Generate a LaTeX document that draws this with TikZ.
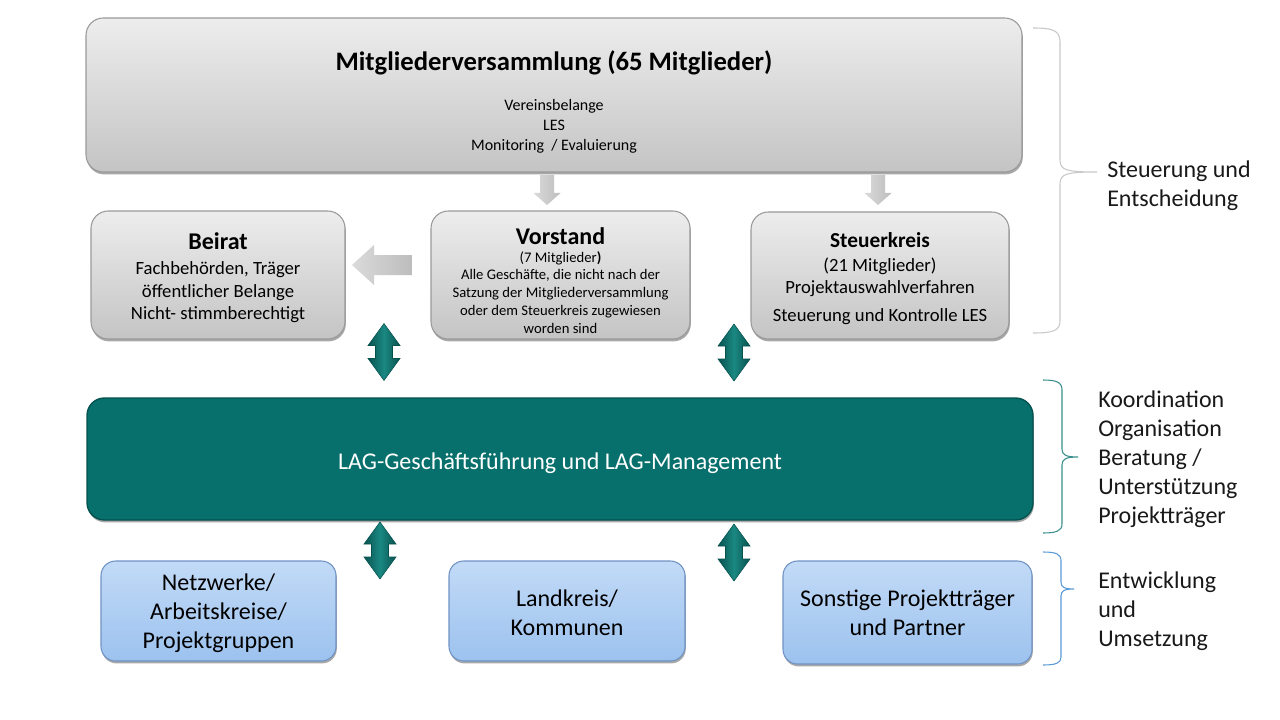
\documentclass[tikz,border=0pt]{standalone}
\usepackage{fontspec}
\setmainfont{Carlito}
\usetikzlibrary{shadows}
\definecolor{gtop}{HTML}{EDEDED}
\definecolor{gbot}{HTML}{C4C4C4}
\definecolor{gborder}{HTML}{9A9A9A}
\definecolor{tealfill}{HTML}{08706C}
\definecolor{tealborder}{HTML}{04514E}
\definecolor{tealdark}{HTML}{09524F}
\definecolor{teallight}{HTML}{1A8882}
\definecolor{btop}{HTML}{C2DAF7}
\definecolor{bbot}{HTML}{9CC2EE}
\definecolor{bborder}{HTML}{6F93C4}
\definecolor{bracegray}{HTML}{C9C9C9}
\definecolor{braceteal}{HTML}{3A8F8C}
\definecolor{braceblue}{HTML}{5B9BD5}
\definecolor{arrgraya}{HTML}{DADADA}
\definecolor{arrgrayb}{HTML}{BDBDBD}
\begin{document}
\begin{tikzpicture}[x=0.75pt,y=-0.75pt,
  boxshadow/.style={drop shadow={shadow xshift=0.6pt,shadow yshift=-1.8pt,opacity=0.45,fill=black!75}},
  graybox/.style={rounded corners=13pt,top color=gtop,bottom color=gbot,draw=gborder,line width=0.8pt,boxshadow,align=center,inner sep=0pt},
  tealbox/.style={rounded corners=13pt,fill=tealfill,draw=tealborder,line width=1pt,boxshadow,align=center,inner sep=0pt,text=white},
  bluebox/.style={rounded corners=11pt,top color=btop,bottom color=bbot,draw=bborder,line width=0.8pt,boxshadow,align=center,inner sep=0pt},
  sidelabel/.style={anchor=west,align=left,inner sep=0pt,text=black!90,font=\fontsize{18}{21.75}\selectfont},
  brace/.style={line width=0.8pt},
  tealarrow/.style={left color=tealdark,right color=tealdark,middle color=teallight,draw=tealborder,line width=0.4pt},
  grayarrow/.style={left color=arrgraya,right color=arrgrayb,draw=none},
  vdarrow/.pic={\path[tealarrow] (0,-28.5) -- (16,-6.5) -- (8.5,-6.5) -- (8.5,6.5) -- (16,6.5) -- (0,28.5) -- (-16,6.5) -- (-8.5,6.5) -- (-8.5,-6.5) -- (-16,-6.5) -- cycle;},
  downarrow/.pic={\path[grayarrow] (-7,-15) -- (7,-15) -- (7,3) -- (13.5,3) -- (0,15) -- (-13.5,3) -- (-7,3) -- cycle;},
  leftarrow/.pic={\path[grayarrow] (-30,0) -- (-8,-20) -- (-8,-10) -- (30,-10) -- (30,10) -- (-8,10) -- (-8,20) -- cycle;}
]
\useasboundingbox[fill=white] (0,0) rectangle (1280,720);

% main boxes
\node[graybox,minimum width=702pt,minimum height=115.5pt,font=\fontsize{12}{15}\selectfont] (mv) at (554,95)
  {{\fontsize{20}{24}\selectfont\bfseries\rule{0pt}{25pt}Mitgliederversammlung (65 Mitglieder)}\\[15pt]
   Vereinsbelange\\LES\\Monitoring~ / Evaluierung};

\node[graybox,minimum width=190.5pt,minimum height=96pt,font=\fontsize{14}{16.875}\selectfont] (beirat) at (218,275)
  {{\fontsize{18}{20}\selectfont\bfseries\rule{0pt}{17pt}Beirat}\\[1.9pt]
   Fachbehörden, Träger\\öffentlicher Belange\\Nicht- stimmberechtigt};

\node[graybox,minimum width=194.25pt,minimum height=96pt,font=\fontsize{11}{13.5}\selectfont] (vorstand) at (560.5,275)
  {{\fontsize{18}{20}\selectfont\bfseries\rule{0pt}{21pt}Vorstand}\\[0.5pt]
   (7 Mitglieder\textbf{)}\\[-0.8pt]
   Alle Geschäfte, die nicht nach der\\
   Satzung der Mitgliederversammlung\\
   oder dem Steuerkreis zugewiesen\\
   worden sind};

\node[graybox,minimum width=193.5pt,minimum height=95.25pt,font=\fontsize{14}{16.5}\selectfont] (steuer) at (880,275.5)
  {{\fontsize{16}{18}\selectfont\bfseries\rule{0pt}{16pt}Steuerkreis}\\[1.5pt]
   (21 Mitglieder)\\Projektauswahlverfahren\\[4.5pt]Steuerung und Kontrolle LES};

\node[tealbox,minimum width=709.5pt,minimum height=91.5pt,font=\fontsize{18}{21.75}\selectfont] (lag) at (560,459)
  {\rule{0pt}{19.5pt}LAG-Geschäftsführung und LAG-Management};

\node[bluebox,minimum width=176.25pt,minimum height=75pt,font=\fontsize{18}{21.75}\selectfont] (netz) at (218.5,611)
  {\rule{0pt}{16pt}Netzwerke/\\Arbeitskreise/\\Projektgruppen};
\node[bluebox,minimum width=177pt,minimum height=75pt,font=\fontsize{18}{21.75}\selectfont] (land) at (567,611)
  {\rule{0pt}{14.5pt}Landkreis/\\Kommunen};
\node[bluebox,minimum width=186.75pt,minimum height=77.25pt,font=\fontsize{18}{21.75}\selectfont] (sonst) at (907.5,612.5)
  {Sonstige Projektträger\\und Partner};

% gray block arrows
\pic (d1) at (547,190) {downarrow};
\pic (d2) at (878,190) {downarrow};
\pic (l1) at (382,265) {leftarrow};

% teal double arrows
\pic (v1) at (384,352) {vdarrow};
\pic (v2) at (734,352.5) {vdarrow};
\pic (v3) at (380,550.5) {vdarrow};
\pic (v4) at (734,552.5) {vdarrow};

% braces
\draw[brace,draw=bracegray] (1033,28) .. controls (1052,28) and (1060,30) .. (1060,42) -- (1060,160)
  .. controls (1060,170) and (1066,172) .. (1097,172)
  .. controls (1066,172) and (1060,174) .. (1060,184) -- (1060,321)
  .. controls (1060,331) and (1052,333) .. (1033,333);
\draw[brace,draw=braceteal] (1043,380) .. controls (1056,380) and (1062,382) .. (1062,390) -- (1062,449)
  .. controls (1062,455) and (1066,457) .. (1078,457)
  .. controls (1066,457) and (1062,459) .. (1062,465) -- (1062,524)
  .. controls (1062,531) and (1056,533) .. (1043,533);
\draw[brace,draw=braceblue] (1043,552) .. controls (1056,552) and (1061,554) .. (1061,561) -- (1061,582)
  .. controls (1061,587) and (1064,589) .. (1074,589)
  .. controls (1064,589) and (1061,591) .. (1061,596) -- (1061,657)
  .. controls (1061,663) and (1056,665) .. (1043,665);

% side labels
\node[sidelabel] (lab1) at (1107,185.5) {Steuerung und\\Entscheidung};
\node[sidelabel] (lab2) at (1098,459) {Koordination\\Organisation\\Beratung /\\Unterstützung\\Projektträger};
\node[sidelabel] (lab3) at (1098,611) {Entwicklung\\und\\Umsetzung};
\end{tikzpicture}
\end{document}
